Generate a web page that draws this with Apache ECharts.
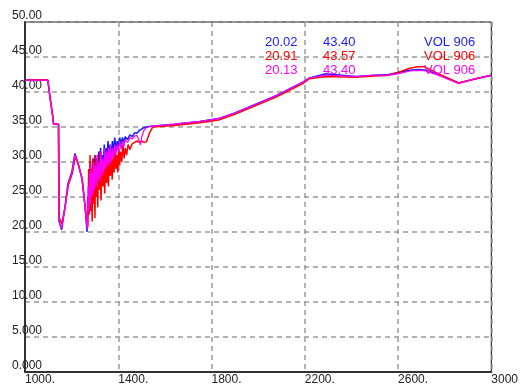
<!DOCTYPE html>
<html>
<head>
<meta charset="utf-8">
<script src="https://cdn.jsdelivr.net/npm/echarts@6/dist/echarts.min.js"></script>
<style>html,body{margin:0;padding:0;background:#fff}#c{width:521px;height:390px}</style>
</head>
<body>
<div id="c"></div>
<script>
// Axis tick labels
const xTickLabels = {1000:'1000.',1400:'1400.',1800:'1800.',2200:'2200.',2600:'2600.',3000:'3000'};
const yTickLabels = {0:'0.000',5:'5.000',10:'10.00',15:'15.00',20:'20.00',25:'25.00',30:'30.00',35:'35.00',40:'40.00',45:'45.00',50:'50.00'};

// Readout texts
const readBlue = ['20.02','43.40','VOL 906'];
const readRed = ['20.91','43.57','VOL 906'];
const readMag = ['20.13','43.40','VOL 906'];

// Series: [x, y]
const blueData = [[1000,41.7],[1098,41.7],[1107,39.2],[1120,36.2],[1122,35.4],[1143,35.4],[1146,21.6],[1157,20.3],[1171,23.4],[1184,26.9],[1201,28.6],[1214,31.2],[1227,29.9],[1244,27.7],[1257,23.8],[1266,20.0],
[1269,25],[1272,23],[1275,28.5],[1278,24.5],[1281,30],[1284,25.5],[1287,29],[1290,26.5],[1293,30.5],[1296,27],[1300,31],[1304,27.5],[1308,30.5],[1312,28],[1316,31.5],[1320,28.5],[1324,32],[1328,29],[1332,31],[1336,29.5],[1340,32.5],[1344,30],[1348,32],[1352,30.5],[1356,33],[1360,30.5],[1365,32.5],[1370,31],[1375,33],[1380,31.5],[1385,33.5],[1390,31.5],[1395,33],[1400,32],[1406,33.5],[1412,32.5],[1418,33.5],[1424,32.8],[1430,33.6],[1440,33.2],[1450,33.9],[1460,33.6],[1470,34.2],[1480,34.1],[1490,34.5],[1500,34.7],[1510,34.9],[1520,35.0],[1540,35.1],
[1640,35.4],[1750,35.8],[1830,36.2],[1900,37.0],[1964,37.9],[2079,39.5],[2191,41.4],[2220,42.0],[2290,42.6],[2420,42.2],[2500,42.4],[2560,42.5],[2600,42.8],[2650,43.1],[2690,43.2],[2720,43.1],[2780,42.4],[2860,41.3],[2920,41.8],[3000,42.4]];

const redData = [[1000,41.7],[1098,41.7],[1108,39.2],[1121,36.2],[1123,35.4],[1145,35.4],[1147,22.0],[1158,21.2],[1172,23.6],[1186,26.7],[1203,28.4],[1216,30.8],[1229,29.6],[1246,27.5],[1258,23.6],[1268,20.6],
[1270,21],[1273,29],[1276,22.5],[1279,31],[1282,23],[1285,28],[1288,21.5],[1291,30.5],[1294,24],[1297,29],[1300,22],[1303,31],[1306,25],[1309,28.5],[1312,23.5],[1315,30],[1318,26],[1322,31.5],[1326,24.5],[1330,30],[1334,26.5],[1338,29.5],[1342,25.5],[1346,31],[1350,27],[1354,30],[1358,26.5],[1362,31.5],[1366,28],[1370,30.5],[1374,27.5],[1378,31],[1382,28.5],[1386,32],[1390,29],[1394,31],[1398,28.5],[1402,32],[1406,29.5],[1410,31.5],[1415,30],[1420,32.5],[1425,30.5],[1430,32],[1436,31],[1442,32.5],[1450,31.8],[1460,32.6],[1470,32.8],[1480,33.0],[1490,32.8],[1500,33.0],[1510,32.8],[1521,32.9],[1535,34.2],[1548,35.0],
[1640,35.2],[1750,35.6],[1830,36.0],[1900,36.8],[1964,37.7],[2079,39.3],[2191,41.2],[2220,41.9],[2290,42.2],[2420,42.1],[2500,42.3],[2560,42.4],[2600,42.8],[2650,43.4],[2683,43.6],[2713,43.6],[2780,42.5],[2860,41.3],[2920,41.8],[3000,42.4]];

const magData = [[1000,41.7],[1098,41.7],[1107,39.2],[1120,36.2],[1122,35.4],[1143,35.4],[1146,21.4],[1157,20.5],[1171,23.4],[1184,26.7],[1201,28.4],[1214,31.0],[1227,29.8],[1244,27.7],[1257,23.8],[1266,20.5],
[1268,21],[1271,26.5],[1274,23],[1277,28.5],[1280,24],[1283,29.5],[1286,25],[1289,28.5],[1292,25.5],[1295,30],[1298,26],[1302,29.5],[1306,26.5],[1310,31],[1314,27],[1318,30],[1322,27.5],[1326,31.5],[1330,28],[1334,30.5],[1338,28.5],[1342,32],[1346,29],[1350,31.5],[1354,29.5],[1358,32],[1362,29.5],[1366,32.5],[1370,30],[1375,32],[1380,30.5],[1385,32.5],[1390,31],[1395,32.5],[1400,31.5],[1406,33],[1412,31.8],[1418,33],[1424,32.2],[1430,33.2],[1440,32.8],[1450,33.5],[1460,33.3],[1470,33.7],[1480,33.8],[1490,33.0],[1495,32.4],[1500,33.5],[1510,34.5],[1520,34.9],[1540,35.1],
[1640,35.4],[1750,35.8],[1830,36.2],[1900,37.0],[1964,37.9],[2079,39.5],[2191,41.4],[2220,42.0],[2290,42.4],[2420,42.2],[2500,42.4],[2560,42.4],[2600,42.6],[2650,43.0],[2690,43.1],[2720,43.0],[2780,42.3],[2860,41.2],[2920,41.8],[3000,42.4]];

const blueC = '#1a1aff', redC = '#ff0000', magC = '#ff00ff';
const FONT = '"Liberation Sans", Arial, sans-serif';

const chart = echarts.init(document.getElementById('c'), null, {renderer:'canvas'});

function rowTexts(arr, color, top) {
  const xs = [265, 323, 424];
  return arr.map((t,i)=>({type:'text', left: xs[i], top: top, z: 100,
    style:{text:t, fill:color, font:'13px ' + FONT}}));
}

chart.setOption({
  animation: false,
  backgroundColor: '#fff',
  grid: {left: 25, right: 28, top: 22, bottom: 18, show: true, borderColor: '#000', borderWidth: 1, containLabel: false},
  xAxis: {
    type: 'value', min: 1000, max: 3000, interval: 400,
    axisLine: {show: true, onZero: false, lineStyle: {color: '#333', width: 2}},
    axisTick: {show: false},
    splitLine: {show: true, lineStyle: {color: '#9a9a9a', type: [5,4], width: 1.5}},
    axisLabel: {align: 'left', margin: 2, color: '#222', fontFamily: FONT, fontSize: 12,
      showMinLabel: true, showMaxLabel: true,
      formatter: v => xTickLabels[v] !== undefined ? xTickLabels[v] : ''}
  },
  yAxis: {
    type: 'value', min: 0, max: 50, interval: 5,
    axisLine: {show: true, onZero: false, lineStyle: {color: '#333', width: 2}},
    axisTick: {show: false},
    splitLine: {show: true, lineStyle: {color: '#9a9a9a', type: [5,4], width: 1.5}},
    axisLabel: {margin: -17, verticalAlign: 'bottom', color: '#222', fontFamily: FONT, fontSize: 12,
      showMinLabel: true, showMaxLabel: true,
      formatter: v => yTickLabels[v] !== undefined ? yTickLabels[v] : ''}
  },
  series: [
    {type: 'line', data: blueData, showSymbol: false, lineStyle: {color: blueC, width: 1.5}, itemStyle:{color: blueC}},
    {type: 'line', data: redData, showSymbol: false, lineStyle: {color: redC, width: 1.5}, itemStyle:{color: redC}},
    {type: 'line', data: magData, showSymbol: false, lineStyle: {color: magC, width: 1.2}, itemStyle:{color: magC}}
  ],
  graphic: [].concat(rowTexts(readBlue, blueC, 36), rowTexts(readRed, redC, 50), rowTexts(readMag, magC, 64))
});
</script>
</body>
</html>
